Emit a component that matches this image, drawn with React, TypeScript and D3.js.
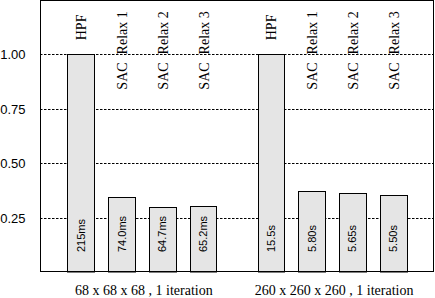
import React from "react";
import * as d3 from "d3";

const groups = ["68 x 68 x 68 , 1 iteration", "260 x 260 x 260 , 1 iteration"];
const methods = ["HPF", "SAC Relax 1", "SAC Relax 2", "SAC Relax 3"];
const group1Values = [1.0, 0.344, 0.301, 0.303];
const group2Values = [1.0, 0.374, 0.365, 0.355];
const group1Times = ["215ms", "74.0ms", "64.7ms", "65.2ms"];
const group2Times = ["15.5s", "5.80s", "5.65s", "5.50s"];
const yTicks = [0.25, 0.5, 0.75, 1.0];

const W = 435;
const H = 298;
const left = 40;
const right = 434;
const top = 0;
const bottom = 272;

export default function App() {
  const x = d3.scaleLinear().domain([0, 29 / 3]).range([left, right]);
  const y = d3.scaleLinear().domain([0, 1.25]).range([bottom, top]);
  const barW = 0.66;
  const groupOffset = 4 + 2 / 3;
  const values = [group1Values, group2Values];
  const times = [group1Times, group2Times];
  const fmt = d3.format(".2f");

  const bars: any[] = [];
  values.forEach((vals, g) => {
    vals.forEach((v, i) => {
      const c = 1 + i + g * groupOffset;
      bars.push({ g, i, c, v, t: times[g][i], m: methods[i] });
    });
  });

  return (
    <svg width={W} height={H} style={{ position: "absolute", left: 0, top: 0, background: "#fff" }}>
      <rect x={0} y={0} width={W} height={H} fill="#fff" />
      {yTicks.map((t) => (
        <g key={t}>
          <line
            x1={left}
            x2={right}
            y1={Math.round(y(t)) + 0.5}
            y2={Math.round(y(t)) + 0.5}
            stroke="#000"
            strokeWidth={1}
            strokeDasharray="2.5,1.5"
          />
          <text
            x={25.5}
            y={Math.round(y(t)) + 0.5}
            dy="0.36em"
            textAnchor="end"
            fontFamily="'Liberation Sans', Arial, sans-serif"
            fontSize={13}
            fill="#000"
          >
            {fmt(t)}
          </text>
        </g>
      ))}
      {bars.map((b) => {
        const x0 = Math.round(x(b.c - barW / 2)) + 0.5;
        const x1 = Math.round(x(b.c + barW / 2)) + 0.5;
        const yt = Math.round(y(b.v)) + 0.5;
        return (
          <rect
            key={`bar-${b.g}-${b.i}`}
            x={x0}
            y={yt}
            width={x1 - x0}
            height={bottom - yt}
            fill="#e5e5e5"
            stroke="#000"
            strokeWidth={1}
          />
        );
      })}
      {bars.map((b) => {
        const cx = x(b.c);
        const ty = bottom - 20;
        return (
          <text
            key={`time-${b.g}-${b.i}`}
            transform={`translate(${cx + 4},${ty}) rotate(-90)`}
            fontFamily="'Liberation Sans', Arial, sans-serif"
            fontSize={11}
            fill="#000"
          >
            {b.t}
          </text>
        );
      })}
      {bars.map((b) => {
        const cx = x(b.c);
        const isHPF = b.i === 0;
        const ly = isHPF ? y(1.065) : y(0.838);
        if (isHPF) {
          return (
            <text
              key={`lab-${b.g}-${b.i}`}
              transform={`translate(${cx + 5.5},${ly}) rotate(-90)`}
              fontFamily="'Liberation Serif', 'Times New Roman', serif"
              fontSize={14}
              fill="#000"
            >
              {b.m}
            </text>
          );
        }
        const parts = b.m.split(" ");
        return (
          <text
            key={`lab-${b.g}-${b.i}`}
            transform={`translate(${cx + 5.5},${ly}) rotate(-90)`}
            fontFamily="'Liberation Serif', 'Times New Roman', serif"
            fontSize={14}
            fill="#000"
          >
            <tspan>{parts[0]}</tspan>
            <tspan dx={8}>{parts.slice(1).join(" ")}</tspan>
          </text>
        );
      })}
      <rect
        x={left + 0.5}
        y={top + 0.5}
        width={right - left - 1}
        height={bottom - top - 1}
        fill="none"
        stroke="#000"
        strokeWidth={1}
      />
      {groups.map((gname, g) => {
        const mid = x(1 + 1.5 + g * groupOffset) + 2;
        return (
          <text
            key={gname}
            x={mid}
            y={295}
            textAnchor="middle"
            fontFamily="'Liberation Serif', 'Times New Roman', serif"
            fontSize={14}
            fill="#000"
          >
            {gname}
          </text>
        );
      })}
    </svg>
  );
}
